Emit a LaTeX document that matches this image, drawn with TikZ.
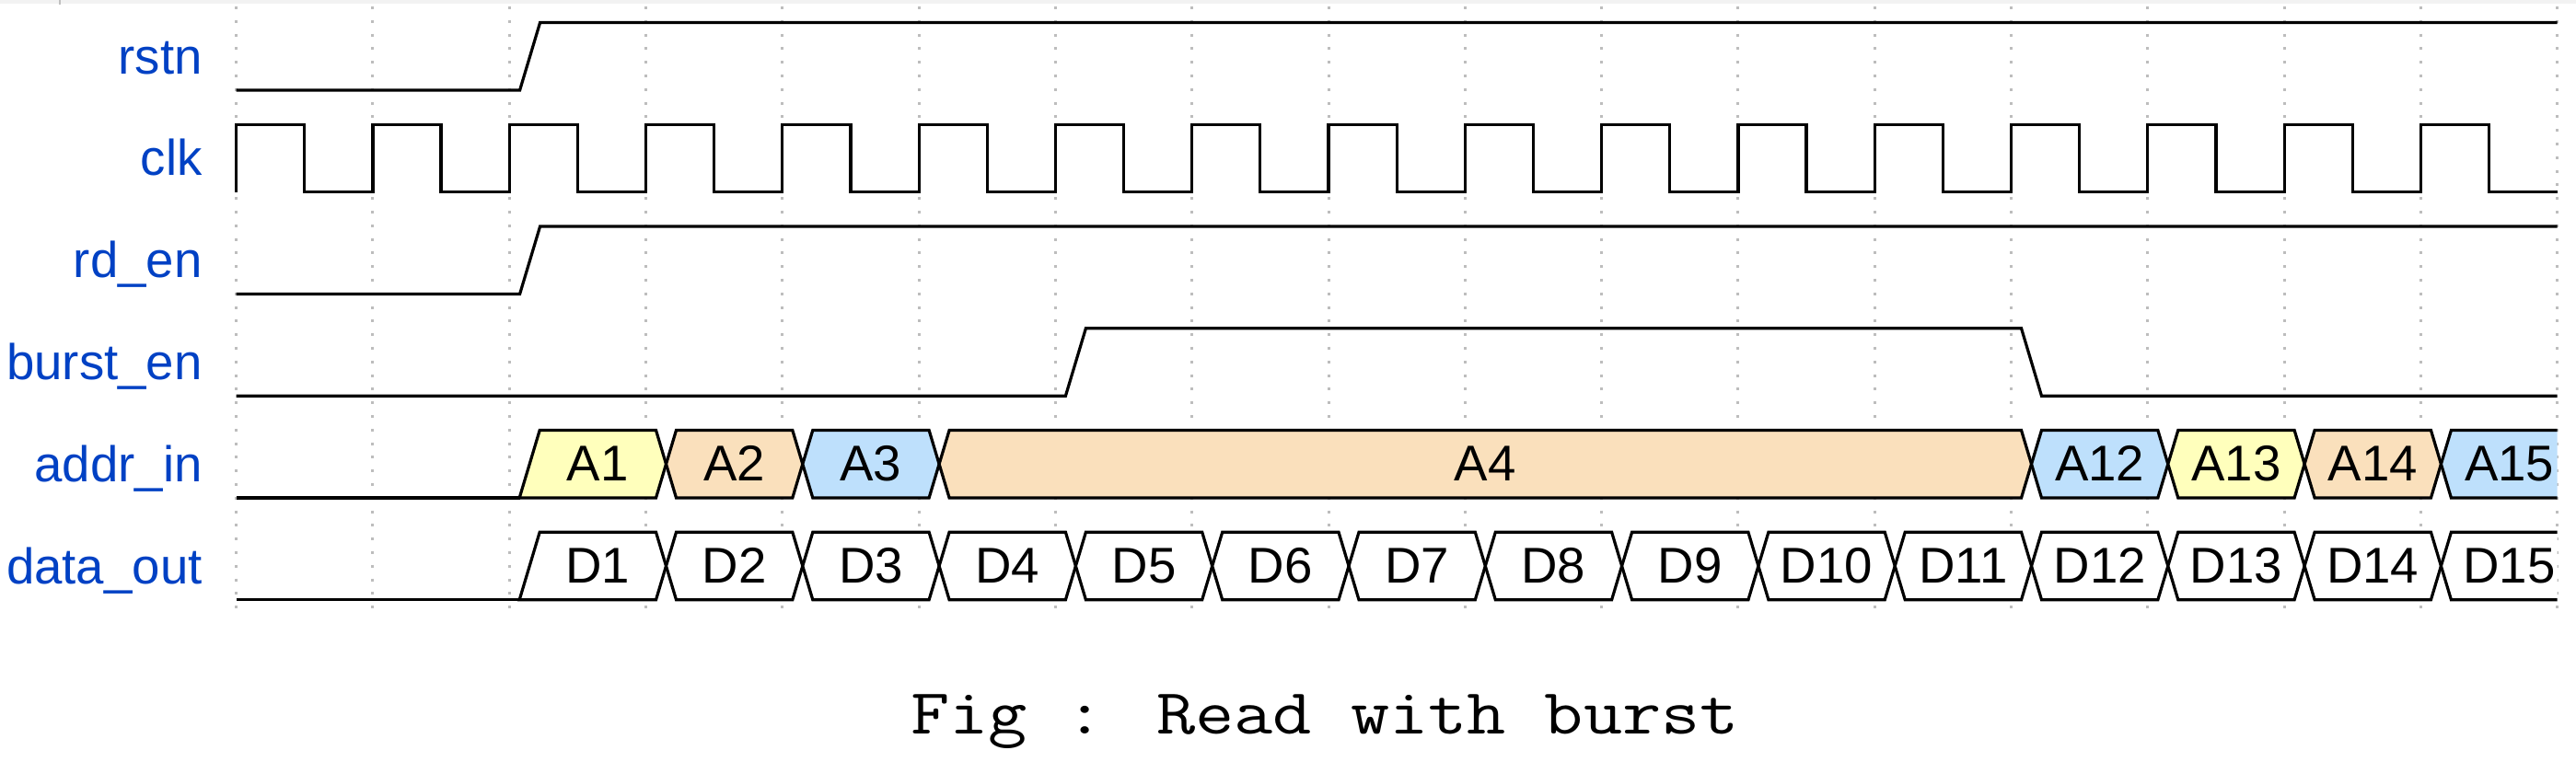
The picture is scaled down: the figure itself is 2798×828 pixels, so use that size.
\documentclass[tikz,border=0pt]{standalone}
\usepackage{fontspec}
\setmainfont{Liberation Sans}
\newfontfamily\capfont[FakeStretch=1.17]{Latin Modern Mono}
\definecolor{lblue}{HTML}{0041C4}
\definecolor{cyel}{HTML}{FFFFBC}
\definecolor{corg}{HTML}{FAE0BC}
\definecolor{cblu}{HTML}{BEE0FC}
\definecolor{gridgray}{HTML}{BDBDBD}
% #1 k1, #2 k2, #3 fill, #4 text, #5 top y, #6 node name
\newcommand\busseg[6]{%
  \pgfmathsetmacro\xa{256.6+148.3*#1}%
  \pgfmathsetmacro\xb{256.6+148.3*#2}%
  \pgfmathsetmacro\yb{#5+73.5}%
  \pgfmathsetmacro\ym{#5+36.75}%
  \ifnum#2=17
    \ifnum#1=2
      \fill[#3] (\xa+11,\yb) -- (\xa+33,#5) -- (\xb,#5) -- (\xb,\yb) -- cycle;
      \draw[wave] (\xb,#5) -- (\xa+33,#5) -- (\xa+11,\yb) -- (\xb,\yb);
    \else
      \fill[#3] (\xa+22,\ym) -- (\xa+33,#5) -- (\xb,#5) -- (\xb,\yb) -- (\xa+33,\yb) -- cycle;
      \draw[wave] (\xb,#5) -- (\xa+33,#5) -- (\xa+22,\ym) -- (\xa+33,\yb) -- (\xb,\yb);
    \fi
  \else
    \ifnum#1=2
      \filldraw[wave,fill=#3] (\xa+11,\yb) -- (\xa+33,#5) -- (\xb+11,#5) -- (\xb+22,\ym) -- (\xb+11,\yb) -- cycle;
    \else
      \filldraw[wave,fill=#3] (\xa+22,\ym) -- (\xa+33,#5) -- (\xb+11,#5) -- (\xb+22,\ym) -- (\xb+11,\yb) -- (\xa+33,\yb) -- cycle;
    \fi
  \fi
  \node[val] (#6) at ({(\xa+\xb)/2+22},#5+55.25) {#4};%
}
\begin{document}
\begin{tikzpicture}[x=0.5pt,y=-0.5pt,
  wave/.style={line width=1.6pt, line join=miter, draw=black},
  gridline/.style={line width=1.5pt, draw=gridgray, dash pattern=on 1.5pt off 5.9pt},
  lbl/.style={font=\fontsize{27.3}{27.3}\selectfont, text=lblue, anchor=base east, inner sep=0pt},
  val/.style={font=\fontsize{27.3}{27.3}\selectfont, anchor=base, inner sep=0pt},
  captext/.style={font=\capfont\fontsize{35}{35}\selectfont, anchor=base, inner sep=0pt}]
\useasboundingbox (0,0) rectangle (2798,828);
\fill[white] (0,0) rectangle (2798,828);
\fill[black!5] (0,0) rectangle (2798,4.5);
\draw[black!25, line width=0.8pt] (65,0) -- (65,5);
% grid
\foreach \k in {0,...,17} {
  \pgfmathsetmacro\gx{256.6+148.3*\k}
  \draw[gridline] (\gx,7) -- (\gx,662);
}
% labels
\node[lbl] (lrstn)  at (220, 80.25)  {rstn};
\node[lbl] (lclk)   at (220, 191.0)  {clk};
\node[lbl] (lrden)  at (220, 301.75) {rd\_en};
\node[lbl] (lburst) at (220, 412.5)  {burst\_en};
\node[lbl] (laddr)  at (220, 523.25) {addr\_in};
\node[lbl] (ldata)  at (220, 634.0)  {data\_out};
% rstn (row 0: top 24.5, bottom 98)
\draw[wave] (256.6,98) -- (564.6,98) -- (586.6,24.5) -- (2777.7,24.5);
% clk (row 1: top 135.25, bottom 208.75)
\draw[wave] (256.6,208.75) \foreach \k in {0,...,16} { -- ++(0,-73.5) -- ++(74.15,0) -- ++(0,73.5) -- ++(74.15,0) };
% rd_en (row 2: top 246, bottom 319.5)
\draw[wave] (256.6,319.5) -- (564.6,319.5) -- (586.6,246) -- (2777.7,246);
% burst_en (row 3: top 356.75, bottom 430.25)
\draw[wave] (256.6,430.25) -- (1157.4,430.25) -- (1179.4,356.75) -- (2195.5,356.75) -- (2217.5,430.25) -- (2777.7,430.25);
% addr_in (row 4: top 467.5)
\draw[wave] (256.6,541) -- (564.6,541);
\busseg{2}{3}{cyel}{A1}{467.5}{a1}
\busseg{3}{4}{corg}{A2}{467.5}{a2}
\busseg{4}{5}{cblu}{A3}{467.5}{a3}
\busseg{5}{13}{corg}{A4}{467.5}{a4}
\busseg{13}{14}{cblu}{A12}{467.5}{a12}
\busseg{14}{15}{cyel}{A13}{467.5}{a13}
\busseg{15}{16}{corg}{A14}{467.5}{a14}
\busseg{16}{17}{cblu}{A15}{467.5}{a15}
% data_out (row 5: top 578.25)
\draw[wave] (256.6,651.75) -- (564.6,651.75);
\foreach \k [evaluate=\k as \n using int(\k-1), evaluate=\k as \kk using int(\k+1)] in {2,...,16} {
  \busseg{\k}{\kk}{white}{D\n}{578.25}{d\n}
}
% caption
\node[captext] (caption) at (1439,797) {Fig : Read with burst};
\end{tikzpicture}
\end{document}
